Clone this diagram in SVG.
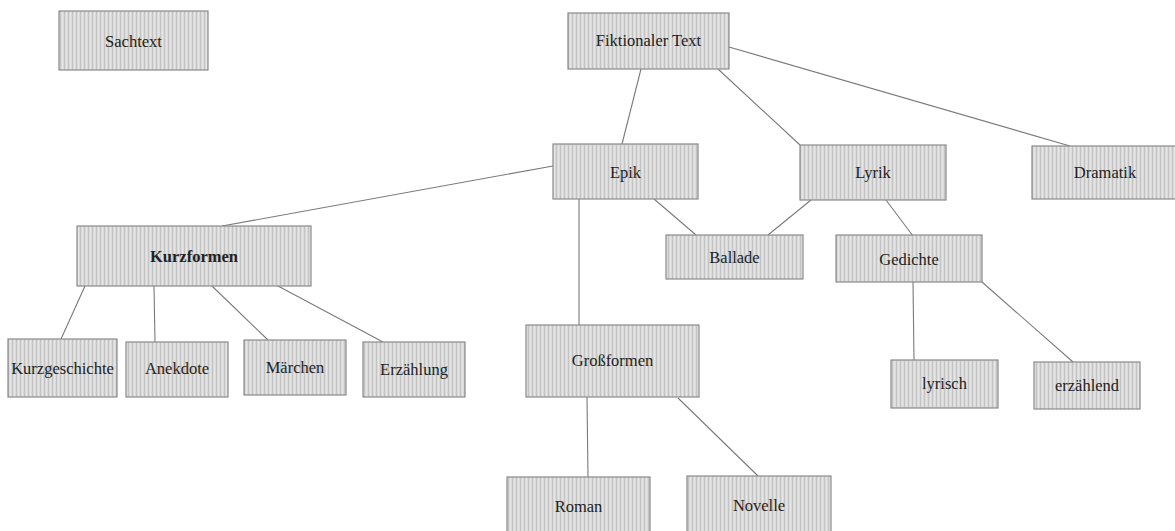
<svg xmlns="http://www.w3.org/2000/svg" width="1175" height="531" viewBox="0 0 1175 531">
<defs>
<pattern id="stripes" width="4" height="4" patternUnits="userSpaceOnUse">
<rect width="4" height="4" fill="#d9d9d9"/>
<rect x="0" width="1" height="4" fill="#c4c4c4"/>
<rect x="2" width="1" height="4" fill="#e6e6e6"/>
</pattern>
<style>
.box rect{fill:url(#stripes);stroke:#8a8a8a;stroke-width:1.2}
.box text{font-family:"Liberation Serif","Times New Roman",serif;font-size:16.5px;fill:#222;text-anchor:middle}
.box text.b{font-weight:bold}
.edges line{stroke:#7a7a7a;stroke-width:1.1}
</style>
</defs>
<rect width="1175" height="531" fill="#ffffff"/>
<g class="edges">
<line x1="641" y1="69" x2="622" y2="144"/>
<line x1="718" y1="69" x2="800" y2="145"/>
<line x1="729" y1="47" x2="1070" y2="146"/>
<line x1="553" y1="166" x2="222" y2="226"/>
<line x1="579" y1="199" x2="579" y2="325"/>
<line x1="654" y1="199" x2="696" y2="235"/>
<line x1="811" y1="200" x2="768" y2="235"/>
<line x1="886" y1="200" x2="913" y2="236"/>
<line x1="85" y1="286" x2="61" y2="339"/>
<line x1="154" y1="286" x2="155" y2="342"/>
<line x1="212" y1="286" x2="268" y2="340"/>
<line x1="278" y1="286" x2="383" y2="342"/>
<line x1="587" y1="397" x2="588" y2="477"/>
<line x1="678" y1="398" x2="758" y2="476"/>
<line x1="913" y1="282" x2="914" y2="360"/>
<line x1="982" y1="282" x2="1073" y2="362"/>
</g>
<g id="sachtext" class="box"><rect x="59" y="11" width="149" height="59"/><text x="133.5" y="47">Sachtext</text></g>
<g id="fiktionaler-text" class="box"><rect x="568" y="13" width="161" height="56"/><text x="648.5" y="46">Fiktionaler Text</text></g>
<g id="epik" class="box"><rect x="553" y="144" width="145" height="55"/><text x="625.5" y="178">Epik</text></g>
<g id="lyrik" class="box"><rect x="800" y="145" width="146" height="55"/><text x="873" y="178">Lyrik</text></g>
<g id="dramatik" class="box"><rect x="1032" y="146" width="146" height="53"/><text x="1105" y="178">Dramatik</text></g>
<g id="kurzformen" class="box"><rect x="77" y="226" width="234" height="60"/><text class="b" x="194" y="262">Kurzformen</text></g>
<g id="ballade" class="box"><rect x="666" y="235" width="137" height="44"/><text x="734.5" y="263">Ballade</text></g>
<g id="gedichte" class="box"><rect x="836" y="235" width="146" height="47"/><text x="909" y="265">Gedichte</text></g>
<g id="kurzgeschichte" class="box"><rect x="8" y="339" width="109" height="58"/><text x="62.5" y="374">Kurzgeschichte</text></g>
<g id="anekdote" class="box"><rect x="126" y="342" width="102" height="55"/><text x="177" y="374">Anekdote</text></g>
<g id="maerchen" class="box"><rect x="244" y="340" width="102" height="55"/><text x="295" y="373">Märchen</text></g>
<g id="erzaehlung" class="box"><rect x="363" y="342" width="102" height="55"/><text x="414" y="375">Erzählung</text></g>
<g id="grossformen" class="box"><rect x="526" y="325" width="173" height="72"/><text x="612.5" y="366">Großformen</text></g>
<g id="lyrisch" class="box"><rect x="891" y="360" width="107" height="48"/><text x="944.5" y="389">lyrisch</text></g>
<g id="erzaehlend" class="box"><rect x="1034" y="362" width="106" height="47"/><text x="1087" y="391">erzählend</text></g>
<g id="roman" class="box"><rect x="507" y="477" width="143" height="60"/><text x="578.5" y="512">Roman</text></g>
<g id="novelle" class="box"><rect x="687" y="476" width="144" height="61"/><text x="759" y="511">Novelle</text></g>
</svg>
